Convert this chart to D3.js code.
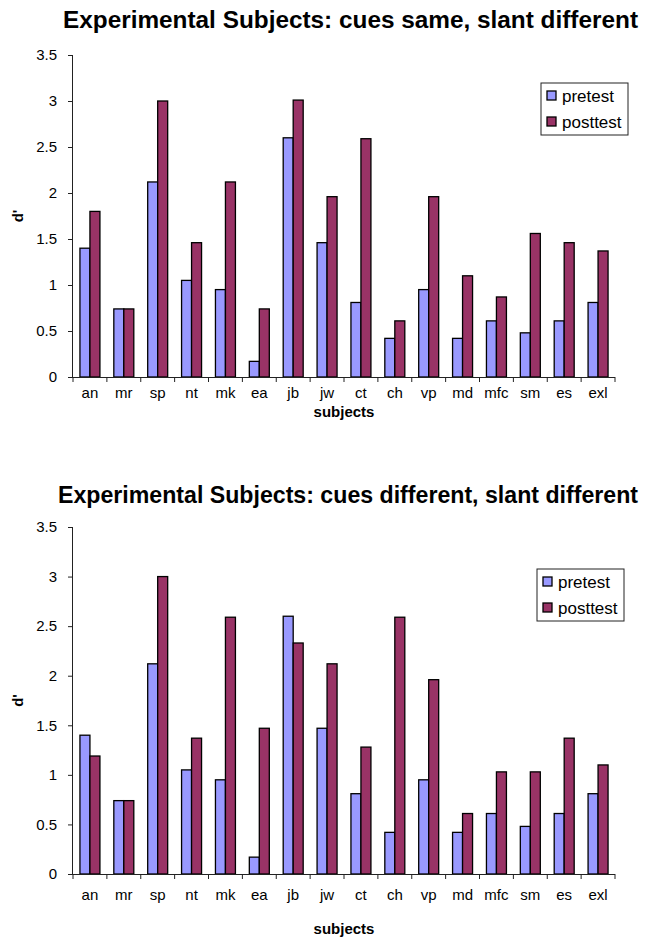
<!DOCTYPE html>
<html>
<head>
<meta charset="utf-8">
<script src="https://cdn.jsdelivr.net/npm/d3@7/dist/d3.min.js"></script>
<style>
  html, body { margin: 0; padding: 0; background: #fff; }
  svg { display: block; font-family: "Liberation Sans", Arial, Helvetica, sans-serif; }
</style>
</head>
<body>
<svg id="chart" width="645" height="939"></svg>
<script>
// Subjects along the x axis
const subjects = ["an", "mr", "sp", "nt", "mk", "ea", "jb", "jw", "ct", "ch", "vp", "md", "mfc", "sm", "es", "exl"];

// d' scores, condition 1: cues same, slant different
const sameSlantPretest  = [1.40, 0.74, 2.12, 1.05, 0.95, 0.17, 2.60, 1.46, 0.81, 0.42, 0.95, 0.42, 0.61, 0.48, 0.61, 0.81];
const sameSlantPosttest = [1.80, 0.74, 3.00, 1.46, 2.12, 0.74, 3.01, 1.96, 2.59, 0.61, 1.96, 1.10, 0.87, 1.56, 1.46, 1.37];

// d' scores, condition 2: cues different, slant different
const diffSlantPretest  = [1.40, 0.74, 2.12, 1.05, 0.95, 0.17, 2.60, 1.47, 0.81, 0.42, 0.95, 0.42, 0.61, 0.48, 0.61, 0.81];
const diffSlantPosttest = [1.19, 0.74, 3.00, 1.37, 2.59, 1.47, 2.33, 2.12, 1.28, 2.59, 1.96, 0.61, 1.03, 1.03, 1.37, 1.10];

// Series names and y-axis ticks
const seriesNames = ["pretest", "posttest"];
const yTicks = [0, 0.5, 1, 1.5, 2, 2.5, 3, 3.5];
const yTickLabels = ["0", "0.5", "1", "1.5", "2", "2.5", "3", "3.5"];

const titles = [
  "Experimental Subjects: cues same, slant different",
  "Experimental Subjects: cues different, slant different"
];

const colors = { pretest: "#9999ff", posttest: "#993366" };

const svg = d3.select("#chart");

function drawPanel(opts) {
  const { title, pre, post, top, bottom, left, right, titleY, titleX0, titleX1,
          labelPad, xTitleDy, legendX, legendY } = opts;
  const g = svg.append("g");

  const rows = subjects.map((s, i) => ({ subject: s, pretest: pre[i], posttest: post[i] }));

  const x0 = d3.scaleBand().domain(subjects).range([left, right]).paddingInner(0.41).paddingOuter(0.205);
  const x1 = d3.scaleBand().domain(seriesNames).range([0, x0.bandwidth()]);
  const y = d3.scaleLinear().domain([0, 3.5]).range([bottom, top]);

  // chart title, spread across its span
  g.append("text")
    .attr("x", titleX0)
    .attr("y", titleY)
    .attr("font-weight", "bold")
    .attr("font-size", 23)
    .attr("textLength", titleX1 - titleX0)
    .attr("lengthAdjust", "spacingAndGlyphs")
    .attr("fill", "#000")
    .text(title);

  // bars
  const groups = g.append("g").selectAll("g")
    .data(rows).join("g")
    .attr("transform", d => `translate(${x0(d.subject)},0)`);

  groups.selectAll("rect")
    .data(d => seriesNames.map(k => ({ key: k, value: d[k] })))
    .join("rect")
    .attr("x", d => x1(d.key))
    .attr("y", d => y(d.value))
    .attr("width", x1.bandwidth())
    .attr("height", d => y(0) - y(d.value))
    .attr("fill", d => colors[d.key])
    .attr("stroke", "#000")
    .attr("stroke-width", 1.3);

  // y axis
  const yAxis = g.append("g")
    .attr("transform", `translate(${left},0)`)
    .call(d3.axisLeft(y).tickValues(yTicks).tickSize(5).tickPadding(11)
      .tickFormat((d, i) => yTickLabels[i]));
  yAxis.select(".domain").attr("stroke", "#222").attr("d", `M-0.5,${top}V${bottom}`);
  yAxis.selectAll(".tick line").attr("stroke", "#222");
  yAxis.selectAll(".tick text").attr("font-size", 15).attr("fill", "#000")
    .attr("font-family", "Liberation Sans, Arial, sans-serif");

  // x axis: category labels at band centres, tick marks between categories
  const xAxis = g.append("g")
    .attr("transform", `translate(0,${bottom})`)
    .call(d3.axisBottom(x0).tickSize(0).tickPadding(labelPad));
  xAxis.select(".domain").attr("stroke", "#222").attr("d", `M${left},0.5H${right}`);
  xAxis.selectAll(".tick text").attr("font-size", 15).attr("fill", "#000")
    .attr("font-family", "Liberation Sans, Arial, sans-serif");

  const boundaries = subjects.map(s => x0(s) - x0.step() * x0.paddingInner() / 2);
  boundaries.push(right);
  xAxis.append("g").selectAll("line")
    .data(boundaries).join("line")
    .attr("x1", d => d).attr("x2", d => d)
    .attr("y1", 0).attr("y2", 5)
    .attr("stroke", "#222");

  // axis titles
  g.append("text")
    .attr("x", (left + right) / 2)
    .attr("y", bottom + xTitleDy)
    .attr("text-anchor", "middle")
    .attr("font-weight", "bold")
    .attr("font-size", 15)
    .text("subjects");

  g.append("text")
    .attr("transform", `translate(${left - 50},${(top + bottom) / 2}) rotate(-90)`)
    .attr("text-anchor", "middle")
    .attr("font-weight", "bold")
    .attr("font-size", 15)
    .text("d'");

  // legend
  const lg = g.append("g").attr("transform", `translate(${legendX},${legendY})`);
  lg.append("rect")
    .attr("width", 87).attr("height", 52)
    .attr("fill", "#fff").attr("stroke", "#222").attr("stroke-width", 1);
  seriesNames.forEach((k, i) => {
    lg.append("rect")
      .attr("x", 6).attr("y", 8 + i * 26)
      .attr("width", 9).attr("height", 9)
      .attr("fill", colors[k]).attr("stroke", "#000").attr("stroke-width", 1.3);
    lg.append("text")
      .attr("x", 21).attr("y", 19 + i * 26)
      .attr("font-size", 17)
      .text(k);
  });
}

drawPanel({
  title: titles[0], pre: sameSlantPretest, post: sameSlantPosttest,
  top: 55, bottom: 377, left: 73, right: 615,
  titleY: 28, titleX0: 63, titleX1: 638,
  labelPad: 10, xTitleDy: 40,
  legendX: 541, legendY: 83
});

drawPanel({
  title: titles[1], pre: diffSlantPretest, post: diffSlantPosttest,
  top: 527, bottom: 874, left: 73, right: 615,
  titleY: 503, titleX0: 58, titleX1: 638,
  labelPad: 15, xTitleDy: 60,
  legendX: 537, legendY: 569
});
</script>
</body>
</html>
